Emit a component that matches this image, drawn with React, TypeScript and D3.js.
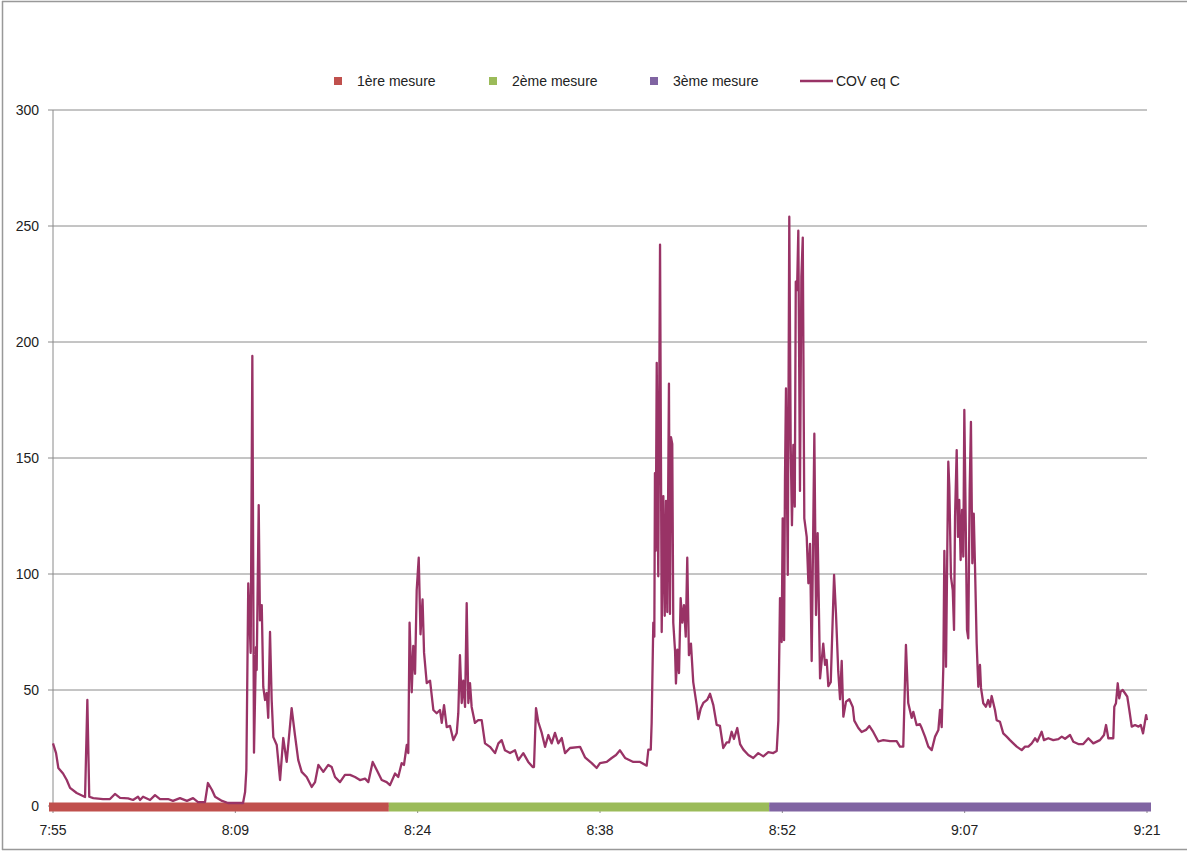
import React from 'react'
import * as d3 from 'd3'

// axis values
const yTicks = [0, 50, 100, 150, 200, 250, 300]
const timeLabels = ['7:55', '8:09', '8:24', '8:38', '8:52', '9:07', '9:21']
const totalMinutes = 86 // minutes elapsed between first and last label

// measurement periods (minutes since 7:55)
const measures = ['1ère mesure', '2ème mesure', '3ème mesure']
const measureColors = ['#C0504D', '#9BBB59', '#8064A2']
const measureBounds = [0, 26.4, 56.3, 86]

const covName = 'COV eq C'
const covColor = '#993366'
// [minutes since 7:55, value]
const cov: [number, number][] = [
  [0.0, 27], [0.24, 22.8], [0.42, 16.4], [0.79, 14], [1.08, 11.2], [1.34, 7.8], [1.86, 5.6], [2.52, 3.9],
  [2.70, 45.7], [2.85, 4], [3.17, 3.4], [3.93, 3], [4.48, 3], [4.87, 5.2], [5.27, 3.5], [5.90, 3.3],
  [6.29, 2.6], [6.68, 4], [6.84, 2.6], [7.08, 4], [7.63, 2.6], [8.02, 4.7], [8.41, 3], [9.04, 3],
  [9.43, 2.2], [9.98, 3.4], [10.53, 2.2], [11.01, 3.4], [11.40, 1.7], [11.95, 1.7], [12.18, 9.9], [12.50, 6.9],
  [12.74, 4], [13.29, 2.2], [13.76, 1.3], [14.94, 1.3], [15.1, 6], [15.2, 15.5], [15.35, 96], [15.54, 66],
  [15.67, 194], [15.80, 23], [15.96, 68.5], [16.01, 58.6], [16.17, 129.7], [16.27, 80], [16.41, 86.6], [16.53, 51.3],
  [16.67, 45.7], [16.80, 48.7], [16.92, 38], [17.06, 75], [17.19, 45.7], [17.32, 29.7], [17.59, 26.3], [17.85, 11.2],
  [18.10, 29.3], [18.37, 19], [18.76, 42.2], [19.02, 30.6], [19.28, 19.8], [19.55, 14.7], [19.94, 12.5], [20.34, 8.2],
  [20.60, 10.3], [20.86, 17.7], [21.25, 14.7], [21.64, 17.7], [21.91, 16.8], [22.17, 12.5], [22.56, 10.3], [22.95, 13.4],
  [23.35, 13.4], [23.74, 12.5], [24.13, 11.2], [24.53, 11.8], [24.79, 10.3], [25.13, 19], [25.45, 15.5], [25.84, 11.2],
  [26.23, 10.3], [26.49, 9], [26.89, 14], [27.14, 12.5], [27.41, 18.5], [27.59, 17.7], [27.81, 26.3], [27.93, 22.8],
  [28.03, 79], [28.20, 49], [28.32, 69], [28.46, 57], [28.59, 93], [28.75, 107], [28.89, 74], [29.05, 89],
  [29.17, 66], [29.38, 53], [29.64, 54], [29.90, 41.4], [30.16, 40], [30.42, 41.4], [30.56, 35.8], [30.74, 43.5],
  [30.95, 34], [31.21, 34.5], [31.47, 28.4], [31.74, 31.5], [31.86, 40], [31.99, 65], [32.13, 44.4], [32.25, 54],
  [32.39, 42.7], [32.52, 87.4], [32.65, 44.4], [32.78, 53], [32.91, 42.7], [33.17, 35.8], [33.43, 37], [33.70, 37],
  [33.96, 27], [34.35, 25.5], [34.75, 22.8], [35.01, 27], [35.27, 28.4], [35.53, 24], [35.93, 22.8], [36.32, 24],
  [36.58, 19.8], [36.97, 22.8], [37.36, 19], [37.71, 16.8], [37.81, 16.8], [37.97, 42.2], [38.15, 36.2], [38.42, 31.5],
  [38.68, 25.5], [38.94, 30.6], [39.20, 27], [39.46, 31.5], [39.72, 27], [39.99, 29.3], [40.25, 22.8], [40.64, 25],
  [41.43, 25.5], [41.82, 21], [42.35, 18.5], [42.74, 16.4], [43.00, 18.5], [43.53, 19], [43.92, 20.7], [44.26, 22],
  [44.57, 24], [44.97, 20.7], [45.62, 19], [46.15, 19], [46.67, 17.4], [46.80, 24.3], [46.99, 24.3], [47.06, 35.8],
  [47.19, 79], [47.27, 73], [47.32, 143.5], [47.38, 110], [47.46, 191], [47.58, 99], [47.72, 242], [47.85, 75],
  [47.98, 133.6], [48.09, 82], [48.19, 131.5], [48.29, 83.6], [48.42, 182], [48.50, 82.8], [48.58, 159], [48.68, 156],
  [48.76, 79], [48.90, 66.8], [48.97, 52.8], [49.08, 67.4], [49.21, 57.3], [49.34, 89.6], [49.47, 79], [49.60, 86.6],
  [49.74, 73], [49.86, 107], [49.99, 65], [50.15, 70], [50.33, 53.4], [50.60, 43.5], [50.73, 37.5], [50.92, 42],
  [51.12, 44.4], [51.44, 45.9], [51.65, 48.4], [51.91, 43.5], [52.17, 35], [52.43, 34.5], [52.69, 25], [52.96, 27.4],
  [53.14, 27.4], [53.35, 32], [53.53, 28.9], [53.79, 33.6], [54.01, 26.7], [54.27, 24.3], [54.66, 22], [55.05, 20.7],
  [55.44, 22.8], [55.84, 21.4], [56.23, 23.2], [56.62, 22.8], [56.89, 23.7], [57.02, 36.8], [57.15, 89.6], [57.28, 70.7],
  [57.36, 124], [57.47, 71.5], [57.54, 140], [57.62, 180], [57.76, 99.6], [57.88, 254], [57.99, 155.6], [58.09, 121],
  [58.20, 155.6], [58.31, 129], [58.39, 226], [58.49, 222.4], [58.59, 248], [58.72, 135.8], [58.83, 228], [58.94, 245],
  [59.06, 124], [59.25, 116], [59.38, 96], [59.51, 113], [59.64, 62.5], [59.85, 160.5], [59.98, 82.3], [60.11, 117.6],
  [60.30, 55], [60.55, 70], [60.69, 60.8], [60.82, 63], [60.95, 51.7], [61.14, 53.4], [61.40, 99.6], [61.55, 83],
  [61.73, 58], [61.87, 46], [62.00, 62.5], [62.13, 38.5], [62.34, 45], [62.60, 46], [62.87, 42.7], [62.99, 36.8],
  [63.31, 33.6], [63.57, 31.9], [63.91, 32.8], [64.17, 34.5], [64.48, 31.9], [64.88, 27.8], [65.27, 28.4], [65.80, 28],
  [66.32, 28], [66.58, 25.6], [66.84, 25.6], [67.05, 69.4], [67.23, 44.4], [67.50, 38], [67.63, 40.6], [67.89, 34.9],
  [68.15, 35.3], [68.29, 33.6], [68.55, 29.9], [68.81, 25.6], [69.08, 24.1], [69.34, 29.9], [69.60, 32.8], [69.73, 41.4],
  [69.86, 34], [69.99, 60], [70.07, 110], [70.20, 60], [70.30, 110], [70.38, 148.4], [70.46, 137.6], [70.59, 98.8],
  [70.73, 93], [70.83, 75.9], [70.91, 124.7], [71.04, 153.4], [71.14, 116], [71.24, 131.9], [71.35, 106], [71.46, 127.6],
  [71.56, 107.5], [71.64, 170.7], [71.75, 121.8], [71.85, 75.9], [71.95, 72.3], [72.06, 136.2], [72.16, 165.6], [72.27, 104.6],
  [72.38, 126], [72.48, 103], [72.61, 70], [72.74, 51.4], [72.87, 60.8], [72.95, 50.9], [73.13, 44.3], [73.34, 42.8],
  [73.52, 45.7], [73.66, 42.8], [73.79, 47.4], [74.05, 41.4], [74.18, 37], [74.44, 36.3], [74.70, 31.3], [74.97, 29.9],
  [75.23, 28.4], [75.49, 27], [75.76, 25.6], [76.15, 24.1], [76.41, 25.6], [76.67, 25.6], [76.94, 27], [77.20, 29.2],
  [77.38, 27.8], [77.72, 32], [77.90, 28.4], [78.24, 29.2], [78.63, 28.4], [79.03, 28.8], [79.30, 29.9], [79.56, 29],
  [79.95, 30.6], [80.21, 27.7], [80.60, 26.7], [80.99, 26.7], [81.39, 29.2], [81.78, 27], [82.30, 28.4], [82.62, 30.6],
  [82.78, 34.9], [82.96, 29.2], [83.35, 29.2], [83.43, 42.8], [83.56, 44.3], [83.70, 52.9], [83.82, 46.4], [83.93, 49.3],
  [84.09, 50], [84.27, 48.6], [84.45, 47.1], [84.61, 41.4], [84.80, 34.2], [85.06, 34.9], [85.33, 34.2], [85.51, 34.9],
  [85.69, 31.3], [85.82, 35.6], [85.93, 39.2], [86.0, 37],
]

const W = 1187
const H = 852
const font = '"Liberation Sans", Arial, sans-serif'

export default function App() {
  const x = d3.scaleLinear().domain([0, totalMinutes]).range([53, 1147])
  const y = d3.scaleLinear().domain([0, 300]).range([806, 110])
  const line = d3.line<[number, number]>()
    .x(d => x(d[0]))
    .y(d => y(d[1]))

  const xTicks = timeLabels.map((_, i) => (i * totalMinutes) / (timeLabels.length - 1))

  // legend: squares for the measures, a line for COV
  const legendX = [334, 489, 650]
  const legendItems = measures.map((m, i) => ({ name: m, color: measureColors[i], x: legendX[i] }))

  return (
    <svg width={W} height={H} style={{ position: 'absolute', left: 0, top: 0, background: '#fff' }}
      fontFamily={font}>
      {/* chart border */}
      <line x1={2.5} x2={2.5} y1={1} y2={850} stroke="#999" strokeWidth={1.5} />
      <line x1={2} x2={W} y1={1.5} y2={1.5} stroke="#999" strokeWidth={1.5} />
      <line x1={2} x2={W} y1={849.5} y2={849.5} stroke="#999" strokeWidth={1.5} />

      {/* gridlines + y labels */}
      {yTicks.map(t => (
        <g key={t}>
          <line x1={48} x2={x(totalMinutes)} y1={y(t)} y2={y(t)} stroke="#8a8a8a" strokeWidth={1} />
          <text x={39} y={y(t) + 5} textAnchor="end" fontSize={14} fill="#222">{t}</text>
        </g>
      ))}
      <line x1={x(0)} x2={x(0)} y1={y(300)} y2={y(0)} stroke="#8a8a8a" strokeWidth={1} />

      {/* x ticks + labels */}
      {xTicks.map((t, i) => (
        <g key={i}>
          <line x1={x(t)} x2={x(t)} y1={y(0)} y2={y(0) + 7} stroke="#8a8a8a" strokeWidth={1} />
          <text x={x(t)} y={835} textAnchor="middle" fontSize={14} fill="#222">{timeLabels[i]}</text>
        </g>
      ))}

      {/* measurement periods on the zero line */}
      {measures.map((m, i) => {
        const x0 = x(measureBounds[i]) - (i === 0 ? 4 : 0)
        const x1 = x(measureBounds[i + 1]) + (i === measures.length - 1 ? 4 : 0)
        return <rect key={m} x={x0} y={y(0) - 3.5} width={x1 - x0} height={9} fill={measureColors[i]} />
      })}

      {/* COV series */}
      <path d={line(cov) || ''} fill="none" stroke={covColor} strokeWidth={2.3} strokeLinejoin="round" />

      {/* legend */}
      {legendItems.map(it => (
        <g key={it.name}>
          <rect x={it.x} y={77} width={8} height={8} fill={it.color} />
          <text x={it.x + 23} y={86} fontSize={14} fill="#222">{it.name}</text>
        </g>
      ))}
      <line x1={800} x2={833} y1={81} y2={81} stroke={covColor} strokeWidth={2.5} />
      <text x={836} y={86} fontSize={14} fill="#222">{covName}</text>
    </svg>
  )
}
